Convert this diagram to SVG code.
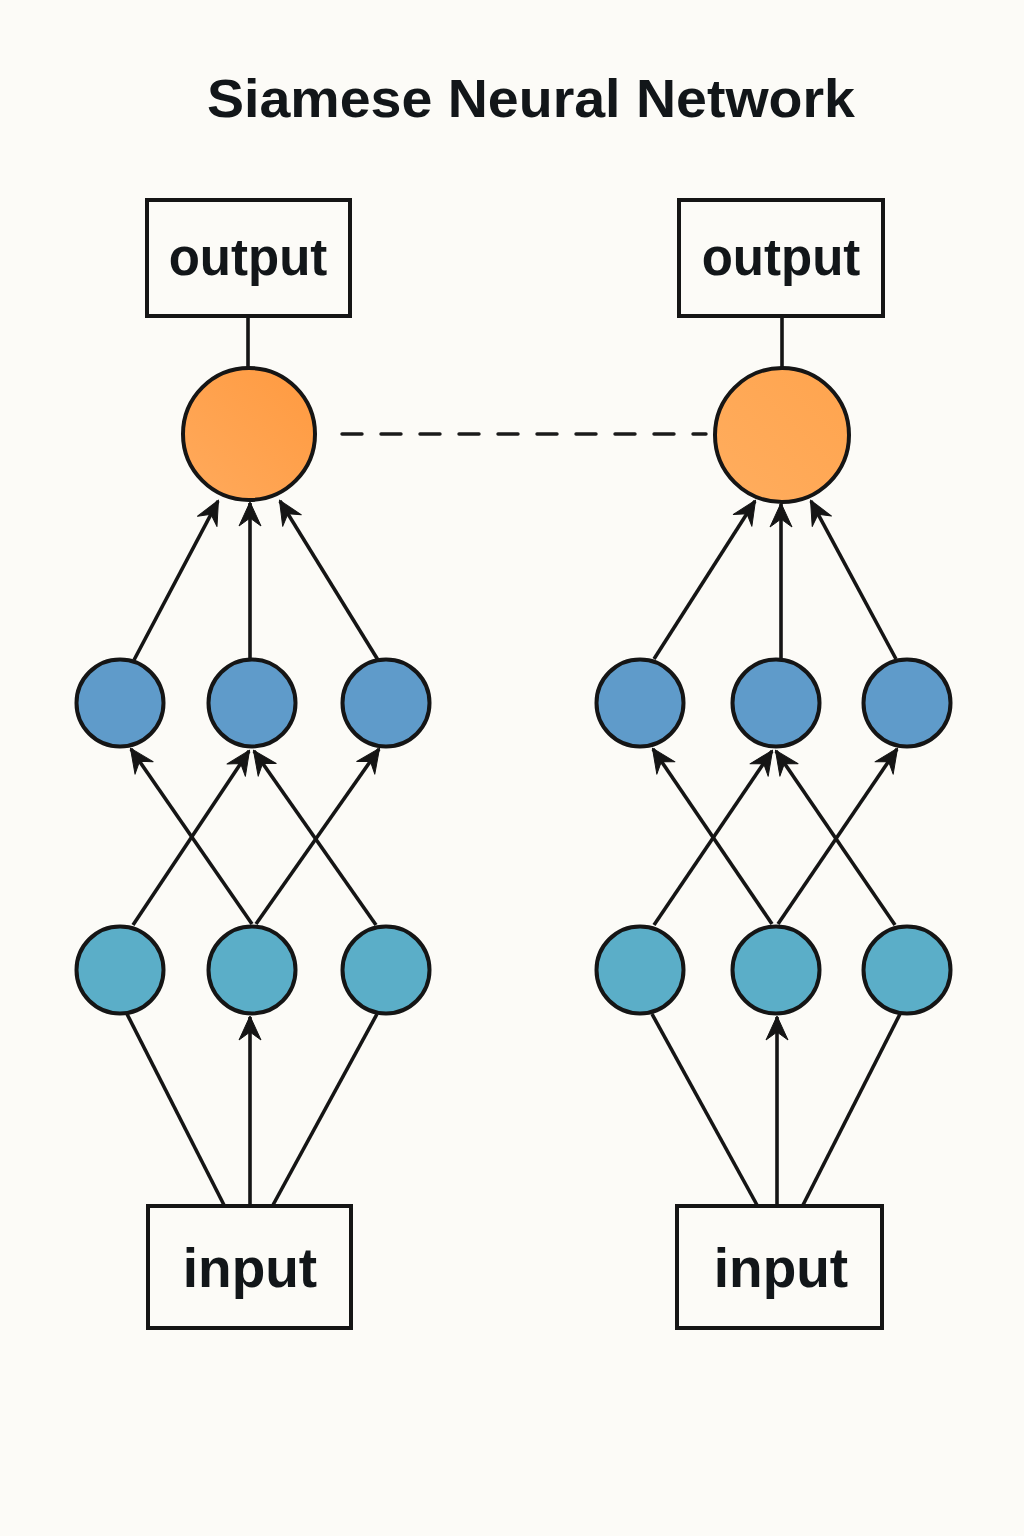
<svg xmlns="http://www.w3.org/2000/svg" width="1024" height="1536" viewBox="0 0 1024 1536">
  <defs>
    <style>
      .box { fill: #FCFBF7; stroke: #151515; stroke-width: 4; }
      .lbl { font-family: "Liberation Sans", Arial, sans-serif; font-weight: bold; fill: #121619; text-anchor: middle; }
      .title { font-family: "Liberation Sans", Arial, sans-serif; font-weight: bold; fill: #121619; text-anchor: middle; font-size: 53px; }
      .node { stroke: #151515; stroke-width: 4; }
      .hid { fill: #5F9BCA; }
      .inl { fill: #5BAEC8; }
      .edge { stroke: #151515; stroke-width: 3.6; fill: none; }
      .arr { marker-end: url(#ah); }
      .dash { stroke: #1a1a1a; stroke-width: 3.4; stroke-dasharray: 20 19; stroke-linecap: round; fill: none; }
    </style>
    <linearGradient id="og" x1="1" y1="0" x2="0" y2="1">
      <stop offset="0" stop-color="#FF9A40"/>
      <stop offset="1" stop-color="#FFAA5C"/>
    </linearGradient>
    <linearGradient id="og2" x1="1" y1="0" x2="0" y2="1">
      <stop offset="0" stop-color="#FFA44E"/>
      <stop offset="1" stop-color="#FFAD5E"/>
    </linearGradient>
    <marker id="ah" viewBox="-26 -13 28 26" refX="0" refY="0" markerWidth="28" markerHeight="26" markerUnits="userSpaceOnUse" orient="auto">
      <path d="M1,0 L-23,-11 L-15,0 L-23,11 Z" fill="#151515" stroke="#151515" stroke-width="1" stroke-linejoin="round"/>
    </marker>
  </defs>
  <rect x="0" y="0" width="1024" height="1536" fill="#FCFBF7"/>

  <text class="title" x="531" y="117" textLength="648" lengthAdjust="spacingAndGlyphs">Siamese Neural Network</text>

  <g id="connectors">
    <!-- left tower -->
    <line class="edge" x1="248" y1="317" x2="248" y2="368"/>
    <line class="edge arr" x1="134" y1="660" x2="218" y2="501"/>
    <line class="edge arr" x1="250" y1="658" x2="250" y2="503"/>
    <line class="edge arr" x1="378" y1="660" x2="280" y2="501"/>
    <line class="edge arr" x1="133" y1="925" x2="249" y2="751"/>
    <line class="edge arr" x1="252" y1="924" x2="131" y2="749"/>
    <line class="edge arr" x1="256" y1="924" x2="379" y2="749"/>
    <line class="edge arr" x1="376" y1="925" x2="254" y2="751"/>
    <line class="edge" x1="224" y1="1205" x2="127" y2="1014"/>
    <line class="edge arr" x1="250" y1="1205" x2="250" y2="1017"/>
    <line class="edge" x1="273" y1="1205" x2="377" y2="1014"/>
    <!-- right tower -->
    <line class="edge" x1="782" y1="317" x2="782" y2="368"/>
    <line class="edge arr" x1="654" y1="659" x2="755" y2="501"/>
    <line class="edge arr" x1="781" y1="658" x2="781" y2="504"/>
    <line class="edge arr" x1="896" y1="659" x2="811" y2="501"/>
    <line class="edge arr" x1="654" y1="925" x2="772" y2="751"/>
    <line class="edge arr" x1="772" y1="924" x2="653" y2="749"/>
    <line class="edge arr" x1="778" y1="924" x2="897" y2="749"/>
    <line class="edge arr" x1="895" y1="925" x2="776" y2="751"/>
    <line class="edge" x1="757" y1="1205" x2="652" y2="1014"/>
    <line class="edge arr" x1="777" y1="1205" x2="777" y2="1017"/>
    <line class="edge" x1="803" y1="1205" x2="900" y2="1014"/>
    <!-- shared link -->
    <line class="dash" x1="342" y1="434" x2="706" y2="434"/>
  </g>

  <g id="output-left"><rect class="box" x="147" y="200" width="203" height="116"/><text class="lbl" x="248" y="275" font-size="51">output</text></g>
  <g id="output-right"><rect class="box" x="679" y="200" width="204" height="116"/><text class="lbl" x="781" y="275" font-size="51">output</text></g>

  <g id="embed-left"><circle class="node" cx="249" cy="434" r="66" fill="url(#og)"/></g>
  <g id="embed-right"><circle class="node" cx="782" cy="435" r="67" fill="url(#og2)"/></g>

  <g id="hidden-left-1"><circle class="node hid" cx="120" cy="703" r="43.5"/></g>
  <g id="hidden-left-2"><circle class="node hid" cx="252" cy="703" r="43.5"/></g>
  <g id="hidden-left-3"><circle class="node hid" cx="386" cy="703" r="43.5"/></g>
  <g id="hidden-right-1"><circle class="node hid" cx="640" cy="703" r="43.5"/></g>
  <g id="hidden-right-2"><circle class="node hid" cx="776" cy="703" r="43.5"/></g>
  <g id="hidden-right-3"><circle class="node hid" cx="907" cy="703" r="43.5"/></g>

  <g id="in-left-1"><circle class="node inl" cx="120" cy="970" r="43.5"/></g>
  <g id="in-left-2"><circle class="node inl" cx="252" cy="970" r="43.5"/></g>
  <g id="in-left-3"><circle class="node inl" cx="386" cy="970" r="43.5"/></g>
  <g id="in-right-1"><circle class="node inl" cx="640" cy="970" r="43.5"/></g>
  <g id="in-right-2"><circle class="node inl" cx="776" cy="970" r="43.5"/></g>
  <g id="in-right-3"><circle class="node inl" cx="907" cy="970" r="43.5"/></g>

  <g id="input-left"><rect class="box" x="148" y="1206" width="203" height="122"/><text class="lbl" x="250" y="1287" font-size="55">input</text></g>
  <g id="input-right"><rect class="box" x="677" y="1206" width="205" height="122"/><text class="lbl" x="781" y="1287" font-size="55">input</text></g>
</svg>
